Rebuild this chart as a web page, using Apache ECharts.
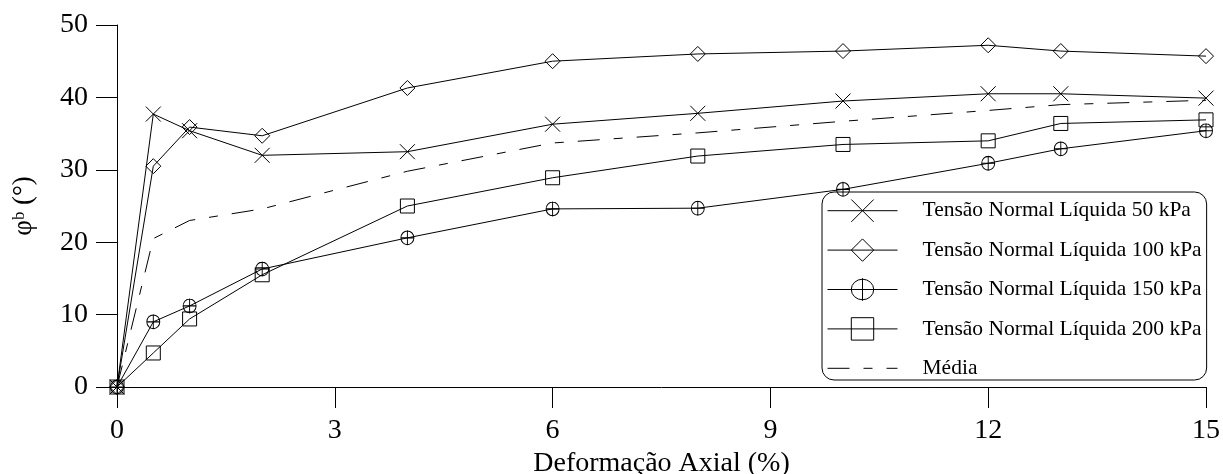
<!DOCTYPE html>
<html><head><meta charset="utf-8">
<script src="https://cdn.jsdelivr.net/npm/echarts@6/dist/echarts.min.js"></script>
<style>html,body{margin:0;padding:0;background:#fff}#c{width:1223px;height:474px}</style>
</head><body><div id="c"></div>
<script>
const deformacao = [0, 0.5, 1, 2, 4, 6, 8, 10, 12, 13, 15];
const s50  = [0, 37.7, 35.4, 32.0, 32.5, 36.3, 37.8, 39.5, 40.5, 40.5, 39.9];
const s100 = [0, 30.5, 35.9, 34.7, 41.3, 45.0, 46.0, 46.4, 47.2, 46.4, 45.7];
const s150 = [0, 9.0, 11.2, 16.3, 20.6, 24.6, 24.7, 27.3, 30.9, 32.9, 35.4];
const s200 = [0, 4.7, 9.4, 15.5, 25.0, 28.9, 31.9, 33.5, 34.0, 36.4, 36.9];
const media = [0, 20.5, 23.0, 24.6, 29.8, 33.7, 35.1, 36.7, 38.2, 39.0, 39.6];
const names = ['Tensão Normal Líquida 50 kPa','Tensão Normal Líquida 100 kPa','Tensão Normal Líquida 150 kPa','Tensão Normal Líquida 200 kPa','Média'];
const xTicks = [0, 3, 6, 9, 12, 15];
const yTicks = [0, 10, 20, 30, 40, 50];

const pair = arr => deformacao.map((x, i) => [x, arr[i]]);
const FONT = '"Liberation Serif","DejaVu Serif",serif';
const symX = 'path://M0,0L22,22M22,0L0,22';
const symCP = 'path://M0,12A11,11,0,1,1,22,12A11,11,0,1,1,0,12ZM11,0L11,24M0,12L22,12';
function mk(name, data, symbol, size) {
  return {
    name, type: 'line', data: pair(data), symbol, symbolSize: size, showSymbol: true, showAllSymbol: true,
    lineStyle: {color: '#000', width: 1},
    itemStyle: {color: 'rgba(0,0,0,0)', borderColor: '#000', borderWidth: 1},
    emphasis: {disabled: true}
  };
}
const chart = echarts.init(document.getElementById('c'), null, {renderer: 'canvas'});
chart.setOption({
  animation: false,
  backgroundColor: '#fff',
  grid: {left: 117, right: 17, top: 25, bottom: 87, containLabel: false, outerBoundsMode: 'none'},
  xAxis: {
    type: 'value', min: xTicks[0], max: xTicks[xTicks.length-1], interval: 3,
    name: 'Deformação Axial (%)', nameLocation: 'middle', nameGap: 63,
    nameTextStyle: {fontFamily: FONT, fontSize: 28, color: '#000'},
    axisLine: {lineStyle: {color: '#000', width: 1}},
    axisTick: {length: 21, lineStyle: {color: '#000'}},
    axisLabel: {fontFamily: FONT, fontSize: 28, color: '#000', margin: 30},
    splitLine: {show: false}
  },
  yAxis: {
    type: 'value', min: yTicks[0], max: yTicks[yTicks.length-1], interval: 10,
    name: 'φᵇ (°)', nameLocation: 'middle', nameGap: 80, nameRotate: 90,
    nameTextStyle: {fontFamily: FONT, fontSize: 27, color: '#000'},
    axisLine: {show: true, lineStyle: {color: '#000', width: 1}},
    axisTick: {show: true, length: 21, lineStyle: {color: '#000'}},
    axisLabel: {fontFamily: FONT, fontSize: 28, color: '#000', margin: 29},
    splitLine: {show: false}
  },
  legend: {
    orient: 'vertical', left: 822, top: 192,
    padding: [7, 5, 0, 5],
    itemWidth: 70, itemHeight: 28, itemGap: 16,
    borderColor: '#000', borderWidth: 1, borderRadius: 12,
    lineStyle: {width: 1},
    itemStyle: {borderWidth: 1},
    textStyle: {fontFamily: FONT, fontSize: 21.5, color: '#000', padding: [0, 0, 0, 20]},
    data: names
  },
  series: [
    mk(names[0], s50, symX, 15),
    mk(names[1], s100, 'diamond', 15),
    mk(names[2], s150, symCP, [13, 15]),
    mk(names[3], s200, 'rect', 14),
    {
      name: names[4], type: 'line', data: pair(media), symbol: 'none',
      lineStyle: {color: '#000', width: 1, type: [22, 14, 9, 14]},
      itemStyle: {color: 'rgba(0,0,0,0)', borderColor: 'rgba(0,0,0,0)', borderWidth: 0},
      emphasis: {disabled: true}
    }
  ]
});
</script></body></html>
